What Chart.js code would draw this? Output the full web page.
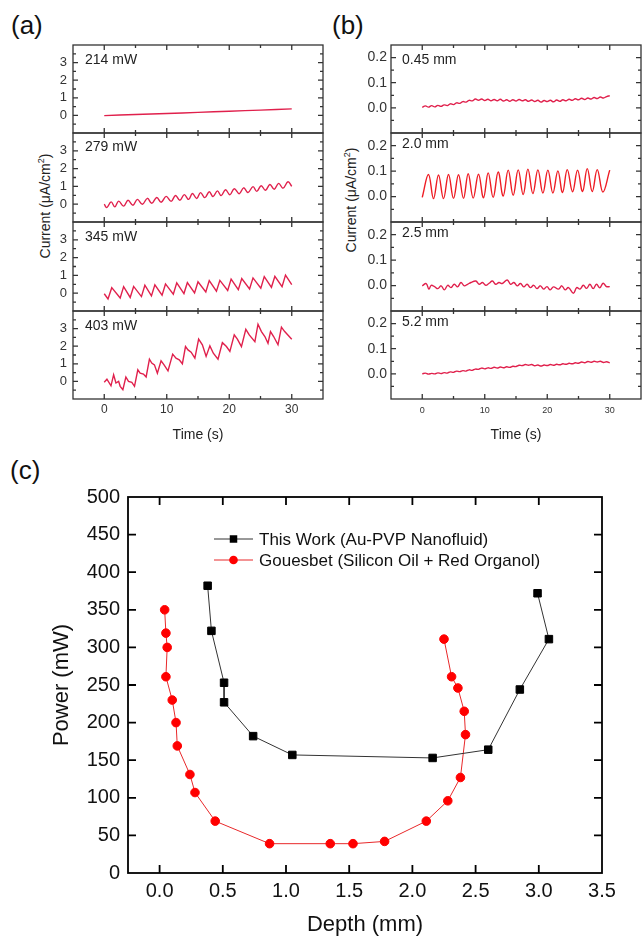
<!DOCTYPE html>
<html>
<head>
<meta charset="utf-8">
<script src="https://cdn.jsdelivr.net/npm/chart.js@4.4.1/dist/chart.umd.min.js"></script>
<style>
    body { margin: 0; background: #fff; font-family: "Liberation Sans", Arial, sans-serif; }
    #fig { position: relative; width: 642px; height: 940px; overflow: hidden; }
    canvas { position: absolute; }
    .tag { position: absolute; font-size: 26px; line-height: 26px; color: #111; }
    .ytitle { position: absolute; font-size: 14px; line-height: 16px; white-space: nowrap; color: #222;
              transform: translate(-50%, -50%) rotate(-90deg); }
    .ytitle sup { font-size: 9px; line-height: 0; }
</style>
</head>
<body>
<div id="fig">
    <div class="tag" style="left:11px;top:12px">(a)</div>
    <div class="tag" style="left:332px;top:12px">(b)</div>
    <div class="tag" style="left:10px;top:457px">(c)</div>
    <div class="ytitle" style="left:45px;top:206px">Current (μA/cm<sup>2</sup>)</div>
    <div class="ytitle" style="left:351px;top:200px">Current (μA/cm<sup>2</sup>)</div>
</div>
<script>
// ---- (a) photocurrent vs time, by laser power ----
const tA1 = [0, 5, 10, 15, 20, 25, 30];
const iA1 = [-0.01, 0.05, 0.11, 0.17, 0.24, 0.30, 0.37];

const tA2 = [0, 0.4, 1.1, 1.7, 2.3, 3.1, 3.8, 4.6, 5.3, 6.1, 6.9, 7.6, 8.4, 9.1, 9.9, 10.7, 11.4, 12.1, 12.8, 13.5,
    14.1, 14.8, 15.4, 16.1, 16.8, 17.4, 18.1, 18.7, 19.4, 20.1, 20.8, 21.6, 22.3, 23.0, 23.8, 24.4, 25.1, 25.8, 26.5, 27.2,
    27.9, 28.6, 29.4, 30];
const iA2 = [0.0, -0.19, 0.13, -0.15, 0.17, -0.11, 0.22, -0.06, 0.27, 0.0, 0.33, 0.05, 0.38, 0.11, 0.44, 0.16, 0.49, 0.22, 0.54, 0.27,
    0.60, 0.32, 0.65, 0.37, 0.70, 0.43, 0.75, 0.48, 0.81, 0.53, 0.87, 0.59, 0.92, 0.66, 0.99, 0.72, 1.04, 0.78, 1.11, 0.84,
    1.17, 0.90, 1.26, 1.0];

const tA3 = [0, 0.6, 1.2, 2.55, 3.1, 4.15, 4.7, 5.95, 6.5, 7.55, 8.1, 9.25, 9.8, 11.05, 11.6, 12.75, 13.3, 14.45, 15.0, 16.25,
    16.8, 17.95, 18.5, 19.75, 20.3, 21.45, 22.0, 23.25, 23.8, 25.05, 25.6, 26.75, 27.3, 28.45, 29.0, 30];
const iA3 = [-0.03, -0.32, 0.31, -0.27, 0.37, -0.24, 0.38, -0.19, 0.45, -0.15, 0.47, -0.11, 0.52, -0.06, 0.58, -0.02, 0.60, 0.02, 0.64, 0.07,
    0.71, 0.11, 0.72, 0.15, 0.79, 0.20, 0.82, 0.24, 0.86, 0.28, 0.93, 0.33, 0.95, 0.37, 1.02, 0.48];

const tA4 = [0, 0.43, 1.08, 1.5, 1.87, 2.3, 2.55, 2.98, 3.46, 3.88, 4.41, 4.84, 5.37, 5.74, 6.27, 6.7, 7.23, 7.6, 8.03, 8.5,
    9.09, 9.57, 10.2, 10.95, 11.48, 12.0, 12.5, 13.0, 13.4, 13.9, 14.5, 15.1, 15.7, 16.3, 16.9, 17.45, 18.2, 18.9, 19.55, 20.1,
    20.8, 21.3, 21.95, 22.65, 23.2, 24.1, 24.6, 25.15, 25.7, 26.2, 26.6, 27.1, 27.8, 28.35, 28.87, 30];
const iA4 = [-0.05, 0.13, -0.25, 0.38, -0.09, 0.0, -0.28, -0.47, 0.25, 0.0, -0.06, -0.28, 0.66, 0.47, 0.42, 0.25, 1.26, 1.04, 0.94, 0.47,
    1.17, 0.94, 0.6, 1.55, 1.32, 1.23, 1.0, 1.98, 1.79, 1.66, 1.32, 2.4, 2.08, 1.42, 2.02, 1.6, 1.26, 2.2, 1.98, 1.7,
    2.64, 2.4, 1.98, 2.96, 2.64, 2.26, 3.25, 2.83, 2.55, 2.17, 2.83, 2.55, 2.08, 3.08, 2.83, 2.4];

// ---- (b) photocurrent vs time, by depth ----
const tHalf = [0, 0.5, 1, 1.5, 2, 2.5, 3, 3.5, 4, 4.5, 5, 5.5, 6, 6.5, 7, 7.5, 8, 8.5, 9, 9.5,
    10, 10.5, 11, 11.5, 12, 12.5, 13, 13.5, 14, 14.5, 15, 15.5, 16, 16.5, 17, 17.5, 18, 18.5, 19, 19.5,
    20, 20.5, 21, 21.5, 22, 22.5, 23, 23.5, 24, 24.5, 25, 25.5, 26, 26.5, 27, 27.5, 28, 28.5, 29, 29.5, 30];
const iB1 = [0.002, 0.008, 0.003, 0.009, 0.004, 0.010, 0.006, 0.012, 0.009, 0.016,
    0.013, 0.020, 0.018, 0.025, 0.023, 0.030, 0.028, 0.035, 0.030, 0.035,
    0.029, 0.034, 0.028, 0.033, 0.028, 0.034, 0.027, 0.032, 0.026, 0.032,
    0.027, 0.033, 0.028, 0.032, 0.026, 0.031, 0.025, 0.030, 0.023, 0.029,
    0.025, 0.030, 0.024, 0.031, 0.026, 0.032, 0.028, 0.034, 0.030, 0.036,
    0.032, 0.038, 0.033, 0.039, 0.035, 0.041, 0.037, 0.043, 0.039, 0.045, 0.048];

const tB2 = [0, 1.0, 1.8, 2.6, 3.4, 4.2, 5.0, 5.8, 6.6, 7.35, 8.15, 9.0, 9.8, 10.55, 11.35, 12.15, 12.95, 13.75, 14.55, 15.35,
    16.15, 16.9, 17.7, 18.5, 19.3, 20.1, 20.9, 21.7, 22.45, 23.2, 24.05, 24.85, 25.65, 26.4, 27.2, 28.0, 28.9, 30];
const iB2 = [-0.003, 0.087, -0.008, 0.085, -0.008, 0.087, -0.007, 0.086, -0.007, 0.090, -0.006, 0.088, -0.005, 0.093, -0.003, 0.097, 0.002, 0.104, 0.005, 0.105,
    0.008, 0.108, 0.012, 0.105, 0.014, 0.104, 0.014, 0.101, 0.016, 0.106, 0.019, 0.104, 0.020, 0.110, 0.020, 0.106, 0.018, 0.104];

const tB3 = [0, 0.63, 1.06, 1.43, 1.96, 2.49, 3.02, 3.54, 4.07, 4.6, 5.13, 5.66, 6.19, 6.72, 7.25, 7.78, 8.57, 9.1, 9.63, 10.16,
    10.69, 11.22, 11.75, 12.28, 12.8, 13.6, 14.13, 14.66, 15.19, 15.71, 16.24, 16.77, 17.3, 17.83, 18.36, 18.89, 19.42, 19.95, 20.48, 21.0,
    21.8, 22.33, 22.86, 23.39, 24.18, 24.71, 25.24, 25.77, 26.3, 26.83, 27.35, 27.88, 28.41, 28.94, 29.47, 30];
const iB3 = [-0.001, 0.008, -0.014, 0.001, -0.004, -0.012, -0.001, -0.017, 0.001, -0.008, 0.005, -0.005, 0.012, -0.001, 0.005, 0.012, 0.018, 0.005, 0.012, 0.001,
    0.009, 0.018, 0.005, 0.012, 0.008, 0.022, 0.005, 0.012, -0.001, 0.008, -0.005, 0.005, -0.008, 0.001, -0.012, -0.001, -0.014, -0.004, -0.017, -0.005,
    -0.014, -0.001, -0.017, -0.008, -0.030, -0.008, -0.014, 0.001, -0.011, 0.005, -0.012, 0.005, -0.009, 0.009, -0.004, -0.004];

const iB4 = [0.000, 0.003, -0.001, 0.002, 0.000, 0.004, 0.001, 0.005, 0.003, 0.008,
    0.006, 0.011, 0.009, 0.013, 0.011, 0.016, 0.014, 0.019, 0.018, 0.023,
    0.020, 0.024, 0.022, 0.026, 0.023, 0.027, 0.024, 0.028, 0.026, 0.030,
    0.029, 0.034, 0.033, 0.037, 0.034, 0.037, 0.032, 0.035, 0.031, 0.035,
    0.033, 0.037, 0.034, 0.038, 0.036, 0.040, 0.038, 0.042, 0.040, 0.044,
    0.042, 0.047, 0.044, 0.049, 0.046, 0.050, 0.047, 0.050, 0.045, 0.048, 0.044];

// ---- (c) threshold power vs depth ----
const depthWork = [0.38, 0.41, 0.51, 0.51, 0.74, 1.05, 2.16, 2.60, 2.85, 3.08, 2.99];
const powerWork = [382, 322, 253, 227, 182, 157, 153, 164, 244, 311, 372];
const depthGoues = [0.04, 0.05, 0.06, 0.05, 0.10, 0.13, 0.14, 0.24, 0.28, 0.44, 0.87, 1.35, 1.53, 1.78, 2.11, 2.28, 2.38, 2.42, 2.41, 2.36, 2.31, 2.25];
const powerGoues = [350, 319, 300, 261, 230, 200, 169, 131, 107, 69, 39, 39, 39, 42, 69, 96, 127, 184, 215, 246, 261, 311];

const FONT = "'Liberation Sans', Arial, sans-serif";
Chart.defaults.font.family = FONT;
Chart.defaults.color = "#222";

// sub-plot rows shared by (a) and (b)
const SUB_TOPS = [45, 133, 222, 311];
const SUB_H = [88, 89, 89, 88];

// frame with inward ticks on all four sides + corner label
const framePlugin = {
    id: "frame",
    afterDraw(chart, args, opts) {
        const { ctx, chartArea: a, scales } = chart;
        const isMajor = (v, step) => Math.abs(v / step - Math.round(v / step)) < 1e-6;
        ctx.save();
        ctx.strokeStyle = opts.color;
        ctx.lineWidth = opts.width;
        ctx.strokeRect(a.left, a.top, a.right - a.left, a.bottom - a.top);
        ctx.beginPath();
        scales.x.ticks.forEach(t => {
            const px = scales.x.getPixelForValue(t.value);
            if (px <= a.left + 1 || px >= a.right - 1) return;
            const len = isMajor(t.value, opts.xMajor) ? opts.major : opts.minor;
            ctx.moveTo(px, a.bottom); ctx.lineTo(px, a.bottom - len);
            ctx.moveTo(px, a.top); ctx.lineTo(px, a.top + len);
        });
        scales.y.ticks.forEach(t => {
            const py = scales.y.getPixelForValue(t.value);
            if (py <= a.top + 1 || py >= a.bottom - 1) return;
            const len = isMajor(t.value, opts.yMajor) ? opts.major : opts.minor;
            ctx.moveTo(a.left, py); ctx.lineTo(a.left + len, py);
            ctx.moveTo(a.right, py); ctx.lineTo(a.right - len, py);
        });
        ctx.stroke();
        if (opts.label) {
            ctx.fillStyle = "#222";
            ctx.font = "14px " + FONT;
            ctx.textBaseline = "middle";
            ctx.fillText(opts.label, a.left + opts.labelDx, a.top + opts.labelDy);
        }
        ctx.restore();
    }
};

// legend drawn inside the plot area of (c)
const insetLegend = {
    id: "insetLegend",
    afterDraw(chart, args, opts) {
        const { ctx, chartArea: a } = chart;
        ctx.save();
        chart.data.datasets.forEach((ds, i) => {
            const y = a.top + opts.y0 + i * opts.dy;
            const x0 = a.left + opts.x0;
            ctx.strokeStyle = ds.borderColor;
            ctx.lineWidth = ds.borderWidth;
            ctx.beginPath();
            ctx.moveTo(x0, y);
            ctx.lineTo(x0 + opts.len, y);
            ctx.stroke();
            const cx = x0 + opts.len / 2;
            ctx.fillStyle = ds.pointBackgroundColor;
            ctx.beginPath();
            if (ds.pointStyle === "rect") {
                const s = ds.pointRadius * Math.SQRT1_2;
                ctx.rect(cx - s, y - s, 2 * s, 2 * s);
            } else {
                ctx.arc(cx, y, ds.pointRadius, 0, Math.PI * 2);
            }
            ctx.fill();
            ctx.fillStyle = "#111";
            ctx.font = opts.font + "px " + FONT;
            ctx.textBaseline = "middle";
            ctx.fillText(ds.label, x0 + opts.len + opts.gap, y + 1);
        });
        ctx.restore();
    }
};

function addCanvas(left, top, w, h) {
    const cv = document.createElement("canvas");
    cv.width = w;
    cv.height = h;
    cv.style.left = left + "px";
    cv.style.top = top + "px";
    document.getElementById("fig").appendChild(cv);
    return cv;
}

function labelA(v) {
    return Number.isInteger(v) && v >= 0 && v <= 3 ? String(v) : "";
}

function labelB(v) {
    const r = Math.round(v * 10) / 10;
    return Math.abs(v - r) < 1e-6 && r >= 0 && r <= 0.2 ? r.toFixed(1) : "";
}

// one stacked sub-plot of (a) or (b)
function traceChart(cfg) {
    const last = cfg.row === 3;
    const top = SUB_TOPS[cfg.row];
    const h = SUB_H[cfg.row];
    const cv = addCanvas(cfg.left, top - 3, cfg.width, h + 3 + (last ? 46 : 3));

    return new Chart(cv, {
        type: "line",
        data: {
            datasets: [{
                data: cfg.t.map((t, i) => ({ x: t, y: cfg.v[i] })),
                borderColor: cfg.color,
                borderWidth: 1.4,
                pointRadius: 0,
                tension: cfg.tension,
                fill: false
            }]
        },
        options: {
            responsive: false,
            animation: false,
            devicePixelRatio: 1,
            events: [],
            layout: { padding: { top: 3, bottom: last ? 0 : 3, left: 0, right: cfg.padRight } },
            plugins: {
                legend: { display: false },
                tooltip: { enabled: false },
                frame: {
                    color: "#333", width: 1.3, major: 5, minor: 3,
                    xMajor: 10, yMajor: cfg.yMajor,
                    label: cfg.label, labelDx: cfg.labelDx, labelDy: cfg.labelDy
                }
            },
            scales: {
                x: {
                    type: "linear",
                    min: -5,
                    max: 35,
                    grid: { display: false, drawTicks: false },
                    border: { display: false },
                    ticks: {
                        display: last,
                        stepSize: 5,
                        autoSkip: false,
                        maxRotation: 0,
                        padding: cfg.xPad,
                        color: "#333",
                        font: { size: cfg.xFont },
                        callback: v => (v % 10 === 0 && v >= 0 && v <= 30 ? String(v) : "")
                    },
                    title: { display: last, text: "Time (s)", color: "#222", font: { size: 14 }, padding: { top: 0, bottom: 1 } },
                    afterFit: s => { s.height = last ? 46 : 0; s.paddingLeft = 0; s.paddingRight = 0; }
                },
                y: {
                    min: cfg.yMin,
                    max: cfg.yMax,
                    grid: { display: false, drawTicks: false },
                    border: { display: false },
                    ticks: {
                        stepSize: cfg.yStep,
                        autoSkip: false,
                        padding: cfg.yPad,
                        color: "#333",
                        font: { size: cfg.yFont },
                        callback: cfg.yLabel
                    },
                    afterFit: s => { s.width = cfg.yWidth; s.paddingTop = 0; s.paddingBottom = 0; }
                }
            }
        },
        plugins: [framePlugin]
    });
}

// (a)
const aSeries = [[tA1, iA1, "214 mW", 0.4], [tA2, iA2, "279 mW", 0.4], [tA3, iA3, "345 mW", 0], [tA4, iA4, "403 mW", 0]];
const aLabelDy = [15, 14, 15, 15];
aSeries.forEach((s, row) => {
    traceChart({
        row: row, left: 0, width: 325, padRight: 2, yWidth: 73, yPad: 6, yFont: 13,
        t: s[0], v: s[1], label: s[2], tension: s[3], color: "#e0204c",
        yMin: -1, yMax: 4, yStep: 0.5, yMajor: 1, yLabel: labelA,
        xFont: 12, xPad: 3, labelDx: 12, labelDy: aLabelDy[row]
    });
});

// (b)
const bSeries = [[tHalf, iB1, "0.45 mm", "#e0204c"], [tB2, iB2, "2.0 mm", "#ee1c24"], [tB3, iB3, "2.5 mm", "#e0204c"], [tHalf, iB4, "5.2 mm", "#e0204c"]];
const bLabelDy = [15, 11, 11, 11];
bSeries.forEach((s, row) => {
    traceChart({
        row: row, left: 330, width: 312, padRight: 1, yWidth: 61, yPad: 4, yFont: 14,
        t: s[0], v: s[1], label: s[2], tension: 0.4, color: s[3],
        yMin: -0.1, yMax: 0.25, yStep: 0.05, yMajor: 0.1, yLabel: labelB,
        xFont: 9, xPad: 6, labelDx: 11, labelDy: bLabelDy[row]
    });
});

// (c)
const cvC = addCanvas(0, 480, 642, 460);
new Chart(cvC, {
    type: "line",
    data: {
        datasets: [
            {
                label: "This Work (Au-PVP Nanofluid)",
                data: depthWork.map((d, i) => ({ x: d, y: powerWork[i] })),
                borderColor: "#333",
                borderWidth: 1,
                pointStyle: "rect",
                pointRadius: 5.3,
                pointBackgroundColor: "#000",
                pointBorderColor: "#000",
                pointBorderWidth: 1,
                tension: 0
            },
            {
                label: "Gouesbet (Silicon Oil + Red Organol)",
                data: depthGoues.map((d, i) => ({ x: d, y: powerGoues[i] })),
                borderColor: "#e8282a",
                borderWidth: 1,
                pointStyle: "circle",
                pointRadius: 4.3,
                pointBackgroundColor: "#ff0000",
                pointBorderColor: "#ff0000",
                pointBorderWidth: 1,
                tension: 0
            }
        ]
    },
    options: {
        responsive: false,
        animation: false,
        devicePixelRatio: 1,
        events: [],
        layout: { padding: { top: 17, right: 40, left: 0, bottom: 0 } },
        plugins: {
            legend: { display: false },
            tooltip: { enabled: false },
            frame: { color: "#000", width: 1.8, major: 8, minor: 8, xMajor: 0.5, yMajor: 50 },
            insetLegend: { x0: 86, len: 39, gap: 6, y0: 42, dy: 21, font: 17 }
        },
        scales: {
            x: {
                type: "linear",
                min: -0.25,
                max: 3.5,
                grid: { display: false, drawTicks: false },
                border: { display: false },
                ticks: {
                    stepSize: 0.5,
                    includeBounds: false,
                    autoSkip: false,
                    maxRotation: 0,
                    padding: 6,
                    color: "#111",
                    font: { size: 20 },
                    callback: v => v.toFixed(1)
                },
                title: { display: true, text: "Depth (mm)", color: "#111", font: { size: 22 }, padding: { top: 0, bottom: 2 } },
                afterFit: s => { s.height = 67; s.paddingLeft = 0; s.paddingRight = 0; }
            },
            y: {
                min: 0,
                max: 500,
                grid: { display: false, drawTicks: false },
                border: { display: false },
                ticks: {
                    stepSize: 50,
                    autoSkip: false,
                    padding: 8,
                    color: "#111",
                    font: { size: 20 }
                },
                title: { display: true, text: "Power (mW)", color: "#111", font: { size: 22 }, padding: { top: 49, bottom: 0 } },
                afterFit: s => { s.width = 128; s.paddingTop = 0; s.paddingBottom = 0; }
            }
        }
    },
    plugins: [framePlugin, insetLegend]
});
</script>
</body>
</html>
